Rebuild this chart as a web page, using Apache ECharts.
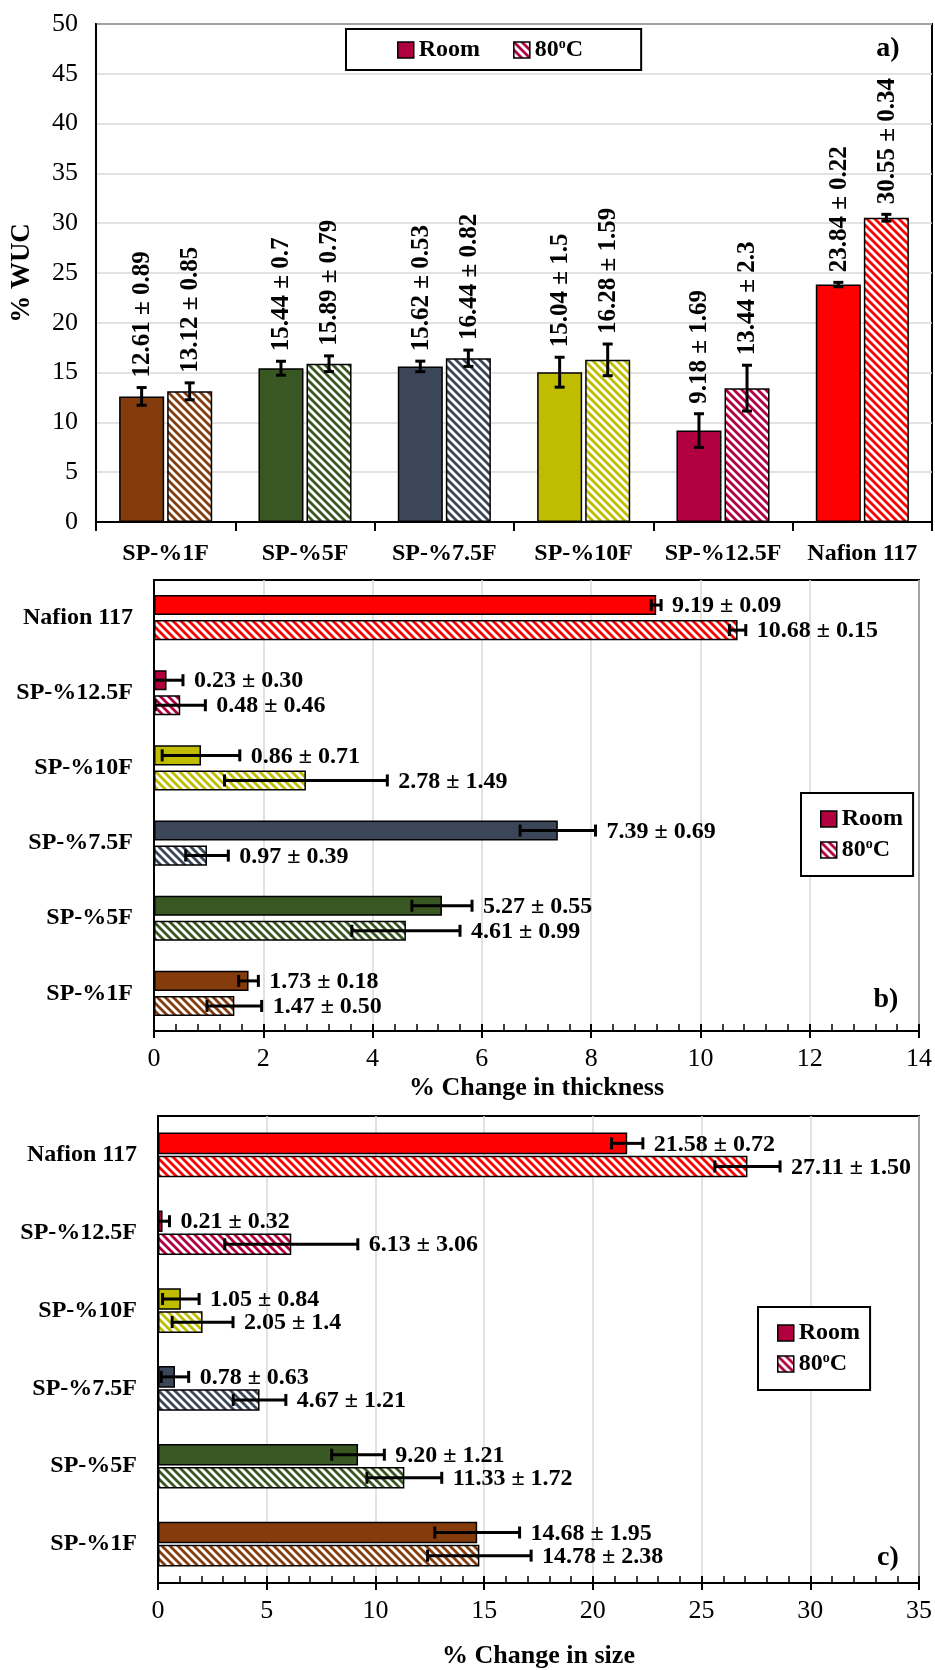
<!DOCTYPE html>
<html>
<head>
<meta charset="utf-8">
<script src="https://cdn.jsdelivr.net/npm/echarts@6/dist/echarts.min.js"></script>
<style>
html,body{margin:0;padding:0;background:#fff;}
#chart{width:935px;height:1670px;}
</style>
</head>
<body>
<div id="chart"></div>
<script>
// ---------------- DATA ----------------
const categories = ['SP-%1F', 'SP-%5F', 'SP-%7.5F', 'SP-%10F', 'SP-%12.5F', 'Nafion 117'];
const catColors = ['#843C0C', '#385723', '#3B4758', '#C0BC00', '#B00040', '#FF0000'];
const seriesNames = ['Room', '80°C'];

// a) % WUC
const wucRoom = [12.61, 15.44, 15.62, 15.04, 9.18, 23.84];
const wucRoomErr = ['0.89', '0.7', '0.53', '1.5', '1.69', '0.22'];
const wuc80 = [13.12, 15.89, 16.44, 16.28, 13.44, 30.55];
const wuc80Err = ['0.85', '0.79', '0.82', '1.59', '2.3', '0.34'];

// b) % change in thickness
const thickRoom = [1.73, 5.27, 7.39, 0.86, 0.23, 9.19];
const thickRoomErr = ['0.18', '0.55', '0.69', '0.71', '0.30', '0.09'];
const thick80 = [1.47, 4.61, 0.97, 2.78, 0.48, 10.68];
const thick80Err = ['0.50', '0.99', '0.39', '1.49', '0.46', '0.15'];

// c) % change in size
const sizeRoom = [14.68, 9.20, 0.78, 1.05, 0.21, 21.58];
const sizeRoomErr = ['1.95', '1.21', '0.63', '0.84', '0.32', '0.72'];
const size80 = [14.78, 11.33, 4.67, 2.05, 6.13, 27.11];
const size80Err = ['2.38', '1.72', '1.21', '1.4', '3.06', '1.50'];

// ---------------- HELPERS ----------------
const FONT = "'Liberation Serif', 'Times New Roman', 'DejaVu Serif', serif";

function hatch(color) {
  const s = 8;
  const c = document.createElement('canvas');
  c.width = s; c.height = s;
  const ctx = c.getContext('2d');
  ctx.fillStyle = '#fff';
  ctx.fillRect(0, 0, s, s);
  ctx.strokeStyle = color;
  ctx.lineWidth = 2.8;
  ctx.beginPath();
  [-s, 0, s].forEach(function (k) {
    ctx.moveTo(k - 2, -2);
    ctx.lineTo(k + s + 2, s + 2);
  });
  ctx.stroke();
  return { image: c, repeat: 'repeat' };
}

function barData(values, hatched) {
  return values.map(function (v, i) {
    return { value: v, itemStyle: { color: hatched ? hatch(catColors[i]) : catColors[i] } };
  });
}

function labelText(v, e) { return v.toFixed(2) + ' \u00B1 ' + e; }

// error bars + value labels, positioned with the same rule ECharts uses for grouped bars
function errSeries(opts) {
  const data = [];
  const labels = [];
  [[opts.room, opts.roomErr], [opts.hot, opts.hotErr]].forEach(function (pair, sIdx) {
    pair[0].forEach(function (v, i) {
      const e = Number(pair[1][i]);
      data.push(opts.horizontal ? [v, i, e, sIdx] : [i, v, e, sIdx]);
      labels.push(labelText(v, pair[1][i]));
    });
  });
  return {
    type: 'custom',
    xAxisIndex: opts.axis, yAxisIndex: opts.axis,
    z: 10,
    silent: true,
    data: data,
    renderItem: function (params, api) {
      const horizontal = opts.horizontal;
      const v = horizontal ? api.value(0) : api.value(1);
      const cat = horizontal ? api.value(1) : api.value(0);
      const e = api.value(2);
      const idx = api.value(3);
      const band = horizontal ? api.size([0, 1])[1] : api.size([1, 0])[0];
      const usable = band * (1 - opts.catGap);
      const bw = usable / (2 + opts.barGap);
      const off = -usable / 2 + bw / 2 + idx * bw * (1 + opts.barGap);
      const lw = 3;
      const children = [];
      const txt = labels[params.dataIndex];
      const cap = opts.cap / 2;
      const font = 'bold ' + opts.fontSize + 'px ' + FONT;
      if (horizontal) {
        const lo = Math.max(0, v - e);
        const pLo = api.coord([lo, cat]);
        const pHi = api.coord([v + e, cat]);
        const y = pLo[1] + off;
        children.push({ type: 'line', shape: { x1: pLo[0], y1: y, x2: pHi[0], y2: y }, style: { stroke: '#000', lineWidth: lw } });
        if (v - e >= 0) children.push({ type: 'line', shape: { x1: pLo[0], y1: y - cap, x2: pLo[0], y2: y + cap }, style: { stroke: '#000', lineWidth: lw } });
        children.push({ type: 'line', shape: { x1: pHi[0], y1: y - cap, x2: pHi[0], y2: y + cap }, style: { stroke: '#000', lineWidth: lw } });
        children.push({
          type: 'text', x: pHi[0] + opts.labelGap, y: y + 1,
          style: { text: txt, fill: '#000', font: font, align: 'left', verticalAlign: 'middle', textAlign: 'left', textVerticalAlign: 'middle' }
        });
      } else {
        const pLo = api.coord([cat, Math.max(0, v - e)]);
        const pHi = api.coord([cat, v + e]);
        const x = pLo[0] + off;
        children.push({ type: 'line', shape: { x1: x, y1: pLo[1], x2: x, y2: pHi[1] }, style: { stroke: '#000', lineWidth: lw } });
        children.push({ type: 'line', shape: { x1: x - cap, y1: pLo[1], x2: x + cap, y2: pLo[1] }, style: { stroke: '#000', lineWidth: lw } });
        children.push({ type: 'line', shape: { x1: x - cap, y1: pHi[1], x2: x + cap, y2: pHi[1] }, style: { stroke: '#000', lineWidth: lw } });
        children.push({
          type: 'text', x: x + 1, y: pHi[1] - opts.labelGap, rotation: Math.PI / 2,
          style: { text: txt, fill: '#000', font: font, align: 'left', verticalAlign: 'middle', textAlign: 'left', textVerticalAlign: 'middle' }
        });
      }
      return { type: 'group', children: children };
    }
  };
}

function barSeries(name, values, hatched, axis, catGap, barGap) {
  return {
    type: 'bar', name: name,
    xAxisIndex: axis, yAxisIndex: axis,
    data: barData(values, hatched),
    barGap: barGap, barCategoryGap: catGap,
    itemStyle: { color: hatched ? hatch('#B00040') : '#B00040', borderColor: '#000', borderWidth: 1.5 },
    emphasis: { disabled: true },
    silent: true
  };
}

const gridLine = { show: true, lineStyle: { color: '#d9d9d9', width: 1.5 } };
const axisLineBlack = { show: true, lineStyle: { color: '#000', width: 2 } };
const tickLabel = { color: '#000', fontSize: 26, fontFamily: FONT };
const catLabel = { color: '#000', fontSize: 24, fontWeight: 'bold', fontFamily: FONT };
const nameStyle = { color: '#000', fontSize: 26, fontWeight: 'bold', fontFamily: FONT };

function legendCfg(left, top, orient, padding, gap) {
  return {
    left: left, top: top, orient: orient,
    data: seriesNames,
    selectedMode: false,
    itemWidth: 16, itemHeight: 16, itemGap: gap,
    padding: padding,
    borderColor: '#000', borderWidth: 2, backgroundColor: '#fff',
    icon: 'rect',
    z: 20,
    itemStyle: { borderColor: '#000', borderWidth: 1.5 },
    formatter: function (n) { return n === 'Room' ? '{t|Room}' : '{t|80}{s|o}{t|C}'; },
    textStyle: {
      color: '#000',
      rich: {
        t: { fontSize: 24, fontWeight: 'bold', fontFamily: FONT, color: '#000', lineHeight: 26 },
        s: { fontSize: 14, fontWeight: 'bold', fontFamily: FONT, color: '#000', verticalAlign: 'top', lineHeight: 14 }
      }
    }
  };
}

function minorAxis(grid, max, interval) {
  return {
    type: 'value', gridIndex: grid, position: 'bottom', min: 0, max: max, interval: interval,
    axisLine: { show: false }, axisLabel: { show: false }, splitLine: { show: false },
    axisTick: { show: true, inside: true, length: 7, lineStyle: { color: '#000', width: 2 } },
    minorTick: { show: true, splitNumber: 5, length: 7, lineStyle: { color: '#000', width: 1.5 } }
  };
}

const option = {
  animation: false,
  backgroundColor: '#fff',
  textStyle: { fontFamily: FONT },
  grid: [
    { left: 96, top: 24, width: 836, height: 498, show: true, borderColor: '#000', borderWidth: 2, containLabel: false },
    { left: 154, top: 580, width: 765, height: 451, show: true, borderColor: '#000', borderWidth: 2, containLabel: false },
    { left: 158, top: 1116, width: 764, height: 476, show: true, borderColor: '#000', borderWidth: 2, containLabel: false }
  ],
  legend: [
    legendCfg(346, 29, 'horizontal', [8, 58, 8, 51], 33),
    legendCfg(801, 793, 'vertical', [14, 10, 14, 19], 6),
    legendCfg(758, 1307, 'vertical', [14, 10, 14, 19], 6)
  ],
  xAxis: [
    {
      type: 'category', gridIndex: 0, data: categories,
      axisLine: axisLineBlack,
      axisTick: { show: true, length: 9, lineStyle: { color: '#000', width: 2 } },
      axisLabel: Object.assign({ margin: 20, interval: 0 }, catLabel),
      splitLine: { show: false }
    },
    {
      type: 'value', gridIndex: 1, min: 0, max: 14, interval: 2,
      name: '% Change in thickness', nameLocation: 'middle', nameGap: 44, nameTextStyle: nameStyle,
      axisLine: axisLineBlack,
      axisTick: { show: true, length: 7, lineStyle: { color: '#000', width: 2 } },
      axisLabel: Object.assign({ margin: 15 }, tickLabel),
      splitLine: gridLine
    },
    {
      type: 'value', gridIndex: 2, min: 0, max: 35, interval: 5,
      name: '% Change in size', nameLocation: 'middle', nameGap: 60, nameTextStyle: nameStyle,
      axisLine: axisLineBlack,
      axisTick: { show: true, length: 7, lineStyle: { color: '#000', width: 2 } },
      axisLabel: Object.assign({ margin: 15 }, tickLabel),
      splitLine: gridLine
    },
    minorAxis(1, 14, 2),
    minorAxis(2, 35, 5)
  ],
  yAxis: [
    {
      type: 'value', gridIndex: 0, min: 0, max: 50, interval: 5,
      name: '% WUC', nameLocation: 'middle', nameGap: 60, nameTextStyle: Object.assign({}, nameStyle, { fontSize: 27 }),
      axisLine: axisLineBlack, axisTick: { show: false },
      axisLabel: Object.assign({ margin: 18 }, tickLabel),
      splitLine: gridLine
    },
    {
      type: 'category', gridIndex: 1, data: categories,
      axisLine: axisLineBlack, axisTick: { show: false },
      axisLabel: Object.assign({ margin: 21, interval: 0 }, catLabel),
      splitLine: { show: false }
    },
    {
      type: 'category', gridIndex: 2, data: categories,
      axisLine: axisLineBlack, axisTick: { show: false },
      axisLabel: Object.assign({ margin: 21, interval: 0 }, catLabel),
      splitLine: { show: false }
    }
  ],
  series: [
    barSeries('Room', wucRoom, false, 0, '33.2%', '6.7%'),
    barSeries('80°C', wuc80, true, 0, '33.2%', '6.7%'),
    errSeries({ axis: 0, horizontal: false, room: wucRoom, roomErr: wucRoomErr, hot: wuc80, hotErr: wuc80Err, catGap: 0.332, barGap: 0.067, cap: 10, labelGap: 10, fontSize: 25 }),

    barSeries('Room', thickRoom, false, 1, '40%', '25%'),
    barSeries('80°C', thick80, true, 1, '40%', '25%'),
    errSeries({ axis: 1, horizontal: true, room: thickRoom, roomErr: thickRoomErr, hot: thick80, hotErr: thick80Err, catGap: 0.40, barGap: 0.25, cap: 12, labelGap: 11, fontSize: 24 }),

    barSeries('Room', sizeRoom, false, 2, '42.6%', '7%'),
    barSeries('80°C', size80, true, 2, '42.6%', '7%'),
    errSeries({ axis: 2, horizontal: true, room: sizeRoom, roomErr: sizeRoomErr, hot: size80, hotErr: size80Err, catGap: 0.426, barGap: 0.07, cap: 12, labelGap: 11, fontSize: 24 })
  ],
  graphic: [
    { type: 'text', z: 30, x: 888, y: 49, style: { text: 'a)', font: 'bold 28px ' + FONT, fill: '#000', align: 'center', verticalAlign: 'middle' } },
    { type: 'text', z: 30, x: 886, y: 1000, style: { text: 'b)', font: 'bold 28px ' + FONT, fill: '#000', align: 'center', verticalAlign: 'middle' } },
    { type: 'text', z: 30, x: 888, y: 1558, style: { text: 'c)', font: 'bold 28px ' + FONT, fill: '#000', align: 'center', verticalAlign: 'middle' } }
  ]
};

const chart = echarts.init(document.getElementById('chart'), null, { renderer: 'canvas' });
chart.setOption(option);
</script>
</body>
</html>
